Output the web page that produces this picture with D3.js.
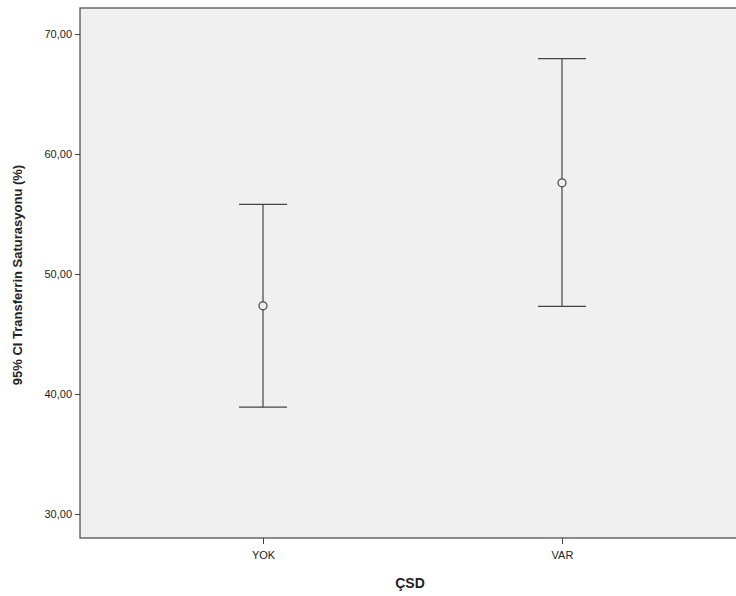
<!DOCTYPE html>
<html><head><meta charset="utf-8">
<script src="https://cdn.jsdelivr.net/npm/d3@7"></script>
<style>body{margin:0;background:#fff}svg{display:block}</style></head>
<body><script>
const categories=["YOK","VAR"];
const means=[47.35,57.6];
const lowers=[38.9,47.3];
const uppers=[55.8,67.95];
const yTicks=[30,40,50,60,70];

const W=736,H=596,L=80,T=8,R=740,B=538;
const svg=d3.select("body").append("svg").attr("width",W).attr("height",H)
 .style("font-family","Arial, Liberation Sans, sans-serif");
const y=d3.scaleLinear().domain([28,72.17]).range([B,T]);
const x=d3.scalePoint().domain(categories).range([263,562]);
svg.append("rect").attr("x",L).attr("y",T).attr("width",R-L).attr("height",B-T)
 .attr("fill","#f0f0f0").attr("stroke","#444").attr("stroke-width",1.2);
const fmt=d=>d.toFixed(2).replace(".",",");
const ya=svg.append("g").attr("transform",`translate(${L},0)`)
 .call(d3.axisLeft(y).tickValues(yTicks).tickFormat(fmt).tickSize(5).tickSizeOuter(0));
ya.select(".domain").remove();
ya.selectAll("text").attr("font-size",11).attr("fill","#222");
ya.selectAll("line").attr("stroke","#444");
const xa=svg.append("g").attr("transform",`translate(0,${B})`)
 .call(d3.axisBottom(x).tickSize(6).tickSizeOuter(0));
xa.select(".domain").remove();
xa.selectAll("text").attr("font-size",11).attr("fill","#222").attr("dy","1.1em");
xa.selectAll("line").attr("stroke","#444");
const g=svg.append("g").attr("stroke","#444").attr("stroke-width",1.2).attr("fill","none");
categories.forEach((c,i)=>{
 const cx=x(c);
 g.append("line").attr("x1",cx).attr("x2",cx).attr("y1",y(uppers[i])).attr("y2",y(lowers[i]));
 [uppers[i],lowers[i]].forEach(v=>g.append("line").attr("x1",cx-24).attr("x2",cx+24).attr("y1",y(v)).attr("y2",y(v)));
 g.append("circle").attr("cx",cx).attr("cy",y(means[i])).attr("r",4).attr("fill","#f0f0f0");
});
svg.append("text").attr("x",410).attr("y",588).attr("text-anchor","middle")
 .attr("font-size",14).attr("font-weight","bold").attr("fill","#222").text("ÇSD");
svg.append("text").attr("transform",`translate(22,${(T+B)/2+2}) rotate(-90)`).attr("text-anchor","middle")
 .attr("font-size",13).attr("font-weight","bold").attr("fill","#222").text("95% CI Transferrin Saturasyonu (%)");
</script></body></html>
